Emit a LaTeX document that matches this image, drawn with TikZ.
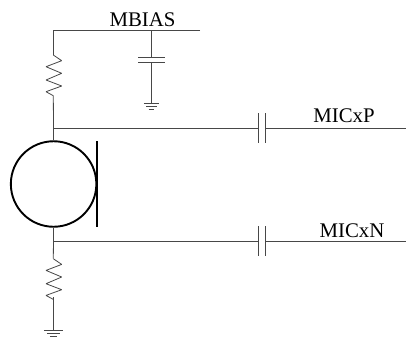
\documentclass[tikz,border=0pt]{standalone}
\usepackage{fontspec}
\setmainfont{Liberation Serif}
\tikzset{
  wire/.style = {draw, color = black!72, line width = 0.8pt},
  micbody/.style = {draw, shape = circle, minimum size = 85.5pt, inner sep = 0pt, line width = 1.9pt},
  micbar/.style = {draw, line width = 1.9pt},
  netlabel/.style = {anchor = base, inner sep = 0pt, font = \fontsize{20.8}{24}\selectfont},
  pics/zigzag/.style = {code = {
    \draw[wire, line join = bevel] (0,0) -- (8.4,5.7) -- (-7.3,11.7) -- (8.4,18.3) -- (-7.3,25)
      -- (8.4,31) -- (-7.3,36.7) -- (0,40.7);}},
  pics/earth/.style = {code = {
    \draw[wire] (-#1,0) -- (#1,0);
    \draw[wire] (-0.68*#1,3.2) -- (0.68*#1,3.2);
    \draw[wire] (-0.36*#1,6) -- (0.36*#1,6);}}
}
\begin{document}
\begin{tikzpicture}[x = 1pt, y = -1pt]
\useasboundingbox (0,0) rectangle (406,338);
% microphone
\node[micbody] (mic) at (53.6,184) {};
\coordinate (bar1) at (96.7,141);
\coordinate (bar2) at (96.7,227);
\draw[micbar] (bar1) -- (bar2);
% bias rail
\coordinate (rail1) at (53.3,30);
\coordinate (rail2) at (200,30);
\coordinate (rail3) at (151.5,30);
\node[netlabel] (mbias) at (142.5,26) {MBIAS};
\draw[wire] (rail2) -- (rail1) -- (53.3,55);
\pic at (53.3,55) {zigzag};
\coordinate (r1) at (53.3,95.7);
\draw[wire] (r1) -- (mic.north);
% filter cap
\coordinate (c1a) at (138,57.3);
\coordinate (c1b) at (165,57.3);
\coordinate (c2a) at (138,62.7);
\coordinate (c2b) at (165,62.7);
\coordinate (c1) at (151.5,57.3);
\coordinate (c2) at (151.5,62.7);
\coordinate (g1) at (151.5,103);
\draw[wire] (rail3) -- (c1);
\draw[wire] (c1a) -- (c1b);
\draw[wire] (c2a) -- (c2b);
\draw[wire] (c2) -- (g1);
\pic at (g1) {earth = 7.7};
% MICxP
\coordinate (p0) at (53.3,128);
\coordinate (p1) at (258,128);
\coordinate (p2) at (265.7,128);
\coordinate (p3) at (406,128);
\node[netlabel] (micp) at (344,122) {MICxP};
\draw[wire] (p0) -- (p1);
\draw[wire] (258,113) -- (258,143);
\draw[wire] (265.7,113) -- (265.7,143);
\draw[wire] (p2) -- (p3);
% MICxN
\coordinate (n0) at (53.3,241);
\coordinate (n1) at (258,241);
\coordinate (n2) at (265.7,241);
\coordinate (n3) at (406,241);
\node[netlabel] (micn) at (352,237) {MICxN};
\draw[wire] (n0) -- (n1);
\draw[wire] (258,226) -- (258,256);
\draw[wire] (265.7,226) -- (265.7,256);
\draw[wire] (n2) -- (n3);
% lower leg
\coordinate (r2) at (53.3,258.7);
\coordinate (r3) at (53.3,297);
\coordinate (g2) at (53.3,330);
\draw[wire] (mic.south) -- (r2);
\pic at (r2) {zigzag};
\draw[wire] (r3) -- (g2);
\pic at (g2) {earth = 9.5};
\end{tikzpicture}
\end{document}
